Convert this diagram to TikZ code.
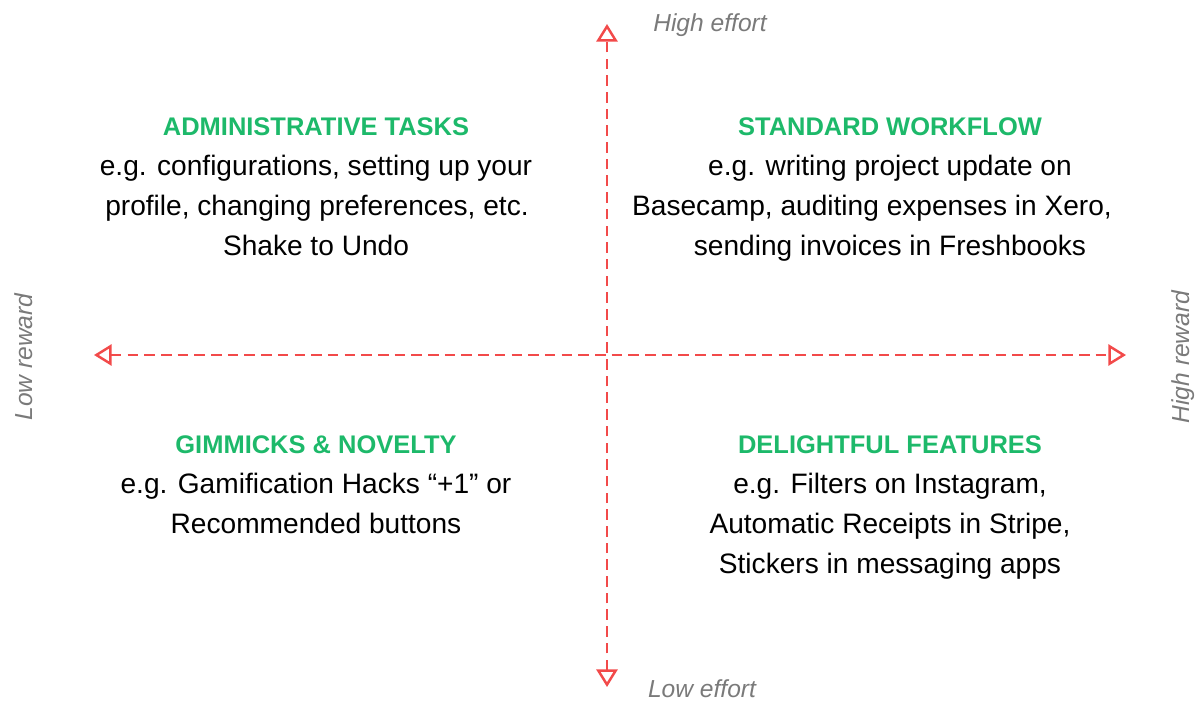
\documentclass[tikz,border=0pt]{standalone}
\usepackage{fontspec}
\setmainfont{Liberation Sans}
\usepackage{tikz}
\usetikzlibrary{arrows.meta}
\definecolor{axisred}{HTML}{F24A4A}
\definecolor{titlegreen}{HTML}{1DB96A}
\definecolor{labelgray}{HTML}{7A7A7A}
\tikzset{
  quadtitle/.style={text=titlegreen,font=\fontsize{14.5}{17}\selectfont\bfseries,anchor=base},
  quadtext/.style={text=black,font=\fontsize{16}{19}\selectfont,anchor=base},
  axislabel/.style={text=labelgray,font=\fontsize{14}{17}\selectfont\itshape,anchor=base},
  axisline/.style={draw=axisred,line width=1.4pt,dash pattern=on 6pt off 3.5pt,
    {Triangle[open,length=10pt,width=12pt,line width=1.4pt]}-{Triangle[open,length=10pt,width=12pt,line width=1.4pt]}}
}
\begin{document}
\begin{tikzpicture}[line cap=butt,line join=round,x=0.02cm,y=-0.02cm]
			\useasboundingbox (0,0) rectangle (1197,700);
			% axes
			\coordinate (top) at (607,24);
			\coordinate (bottom) at (607,687);
			\coordinate (left) at (94,355);
			\coordinate (right) at (1126,355);
			\draw [axisline] (bottom) -- (top);
			\draw [axisline] (left) -- (right);
			\node [axislabel] (higheffort) at (710,31) {High effort};
			\node [axislabel] (loweffort) at (702,697) {Low effort};
			\node [axislabel,rotate=90] (lowreward) at (32,357) {Low reward};
			\node [axislabel,rotate=90] (highreward) at (1189,357) {High reward};
			% top left
			\node [quadtitle] (admin) at (316,135) {ADMINISTRATIVE TASKS};
			\node [quadtext] (admina) at (316,175) {e.g. configurations, setting up your};
			\node [quadtext] (adminb) at (317,215) {profile, changing preferences, etc.};
			\node [quadtext] (adminc) at (316,255) {Shake to Undo};
			% top right
			\node [quadtitle] (standard) at (890,135) {STANDARD WORKFLOW};
			\node [quadtext] (standarda) at (890,175) {e.g. writing project update on};
			\node [quadtext] (standardb) at (872,215) {Basecamp, auditing expenses in Xero,};
			\node [quadtext] (standardc) at (890,255) {sending invoices in Freshbooks};
			% bottom left
			\node [quadtitle] (gimmick) at (316,453) {GIMMICKS \& NOVELTY};
			\node [quadtext] (gimmicka) at (316,493) {e.g. Gamification Hacks “+1” or};
			\node [quadtext] (gimmickb) at (316,533) {Recommended buttons};
			% bottom right
			\node [quadtitle] (delight) at (890,453) {DELIGHTFUL FEATURES};
			\node [quadtext] (delighta) at (890,493) {e.g. Filters on Instagram,};
			\node [quadtext] (delightb) at (890,533) {Automatic Receipts in Stripe,};
			\node [quadtext] (delightc) at (890,573) {Stickers in messaging apps};
\end{tikzpicture}
\end{document}
